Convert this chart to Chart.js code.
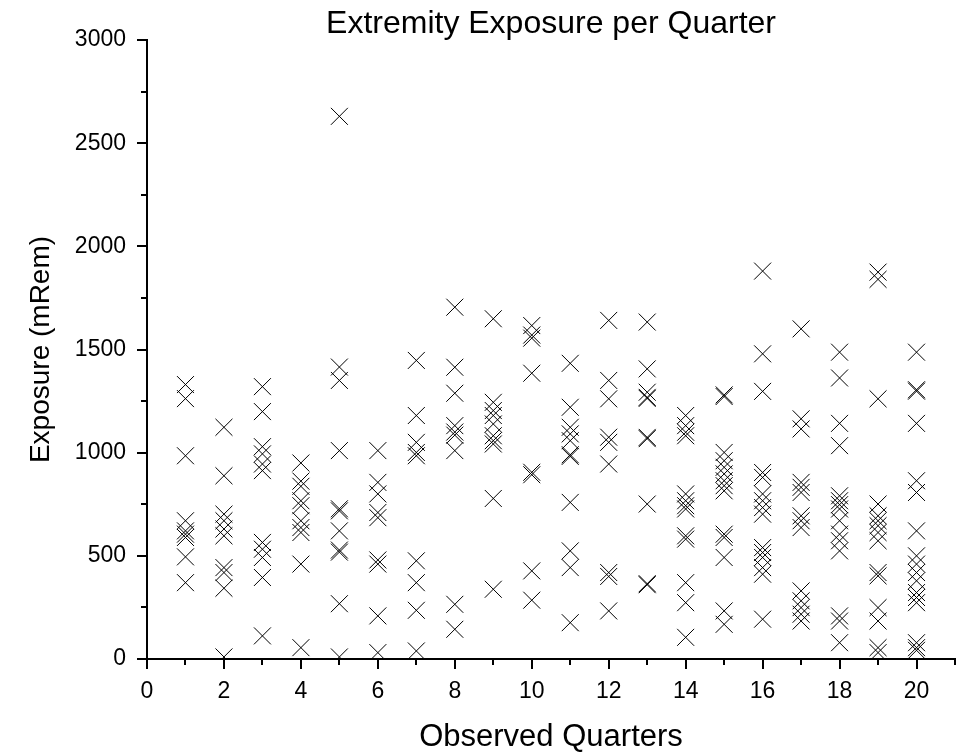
<!DOCTYPE html>
<html>
<head>
<meta charset="utf-8">
<title>Extremity Exposure per Quarter</title>
<script src="https://cdn.jsdelivr.net/npm/chart.js@4/dist/chart.umd.min.js"></script>
<style>
    html, body { margin: 0; padding: 0; background: #fff; }
    #chart { display: block; }
</style>
</head>
<body>
<canvas id="chart" width="961" height="755"></canvas>
<script>
// exposure readings (mRem) for each observed quarter
var q1 = [1330, 1262, 985, 670, 621, 605, 589, 495, 370];
var q2 = [1123, 888, 702, 670, 630, 597, 443, 419, 343, 10];
var q3 = [1320, 1199, 1029, 994, 945, 913, 565, 532, 492, 395, 112];
var q4 = [950, 862, 837, 767, 743, 670, 637, 613, 460, 55];
var q5 = [2630, 1415, 1350, 1010, 728, 718, 621, 528, 518, 268, 10];
var q6 = [1010, 856, 800, 710, 685, 480, 460, 209, 31];
var q7 = [1447, 1180, 1050, 1001, 985, 476, 370, 236, 39];
var q8 = [1705, 1414, 1288, 1131, 1100, 1085, 1010, 265, 144];
var q9 = [1649, 1244, 1204, 1180, 1139, 1082, 1058, 1042, 778, 338];
var q10 = [1616, 1570, 1555, 1385, 905, 893, 427, 285];
var q11 = [1433, 1220, 1123, 1091, 1058, 990, 982, 759, 524, 443, 176];
var q12 = [1641, 1350, 1261, 1075, 1050, 945, 419, 400, 233];
var q13 = [1633, 1406, 1293, 1268, 1263, 1074, 1068, 751, 365, 360];
var q14 = [1180, 1131, 1099, 1082, 800, 767, 743, 727, 597, 581, 370, 273, 105];
var q15 = [1280, 1272, 1001, 961, 929, 897, 864, 840, 815, 605, 589, 492, 233, 168];
var q16 = [1880, 1479, 1297, 904, 880, 800, 767, 734, 702, 540, 516, 492, 443, 411, 193];
var q17 = [1600, 1164, 1115, 856, 832, 807, 694, 670, 637, 330, 282, 249, 217, 184];
var q18 = [1487, 1362, 1142, 1034, 791, 767, 748, 727, 670, 605, 573, 524, 209, 184, 79];
var q19 = [1875, 1840, 1261, 751, 694, 670, 646, 613, 573, 419, 403, 249, 184, 55, 31];
var q20 = [1487, 1305, 1298, 1142, 864, 807, 621, 500, 460, 419, 379, 322, 298, 273, 79, 55, 42];

var quarters = [1, 2, 3, 4, 5, 6, 7, 8, 9, 10, 11, 12, 13, 14, 15, 16, 17, 18, 19, 20];
var readings = [q1, q2, q3, q4, q5, q6, q7, q8, q9, q10, q11, q12, q13, q14, q15, q16, q17, q18, q19, q20];

var FONT = "'Liberation Sans', Arial, Helvetica, sans-serif";

var points = [];
for (var i = 0; i < quarters.length; i++) {
    for (var j = 0; j < readings[i].length; j++) {
        points.push({ x: quarters[i], y: readings[i][j] });
    }
}

// shorter unlabelled ticks between the labelled ones
var minorTicks = {
    id: 'minorTicks',
    afterDraw: function (chart) {
        var ctx = chart.ctx;
        var xs = chart.scales.x;
        var ys = chart.scales.y;
        ctx.save();
        ctx.strokeStyle = '#000';
        ctx.lineWidth = 2;
        ctx.beginPath();
        xs.ticks.forEach(function (t) {
            if (t.value % 2 !== 0) {
                var px = Math.round(xs.getPixelForValue(t.value));
                ctx.moveTo(px, ys.bottom);
                ctx.lineTo(px, ys.bottom + 6);
            }
        });
        ys.ticks.forEach(function (t) {
            if (t.value % 500 !== 0) {
                var py = Math.round(ys.getPixelForValue(t.value));
                ctx.moveTo(xs.left, py);
                ctx.lineTo(xs.left - 6, py);
            }
        });
        ctx.stroke();
        ctx.restore();
    }
};

new Chart(document.getElementById('chart').getContext('2d'), {
    type: 'scatter',
    data: {
        datasets: [
            {
                label: 'Exposure',
                data: points,
                pointStyle: 'crossRot',
                pointRadius: 12,
                pointHoverRadius: 12,
                borderWidth: 1,
                borderColor: '#000',
                backgroundColor: '#000',
                showLine: false
            }
        ]
    },
    options: {
        responsive: false,
        animation: false,
        events: [],
        layout: {
            autoPadding: false,
            padding: { left: 0, right: 6, top: 0, bottom: 0 }
        },
        plugins: {
            legend: { display: false },
            tooltip: { enabled: false },
            title: {
                display: true,
                text: 'Extremity Exposure per Quarter',
                color: '#000',
                fullSize: false,
                font: { family: FONT, size: 32, weight: 'normal', lineHeight: 1 },
                padding: { top: 8, bottom: 0 }
            }
        },
        scales: {
            x: {
                type: 'linear',
                min: 0,
                max: 21,
                afterFit: function (scale) {
                    scale.height = 96;
                    scale.paddingLeft = 0;
                    scale.paddingRight = 0;
                },
                border: { display: true, color: '#000', width: 2 },
                grid: {
                    drawOnChartArea: false,
                    drawTicks: true,
                    tickLength: 10,
                    lineWidth: 2,
                    color: function (c) {
                        return c.tick && c.tick.value % 2 === 0 ? '#000' : 'rgba(0,0,0,0)';
                    }
                },
                ticks: {
                    stepSize: 1,
                    autoSkip: false,
                    maxRotation: 0,
                    padding: 9,
                    color: '#000',
                    font: { family: FONT, size: 23 },
                    callback: function (v) { return v % 2 === 0 ? String(v) : ''; }
                },
                title: {
                    display: true,
                    text: 'Observed Quarters',
                    color: '#000',
                    font: { family: FONT, size: 31, lineHeight: 1 },
                    padding: { top: 0, bottom: 2 }
                }
            },
            y: {
                type: 'linear',
                min: 0,
                max: 3000,
                afterFit: function (scale) {
                    scale.width = 147;
                    scale.paddingTop = 0;
                    scale.paddingBottom = 0;
                },
                border: { display: true, color: '#000', width: 2 },
                grid: {
                    drawOnChartArea: false,
                    drawTicks: true,
                    tickLength: 10,
                    lineWidth: 2,
                    color: function (c) {
                        return c.tick && c.tick.value % 500 === 0 ? '#000' : 'rgba(0,0,0,0)';
                    }
                },
                ticks: {
                    stepSize: 250,
                    autoSkip: false,
                    padding: 11,
                    color: '#000',
                    font: { family: FONT, size: 23 },
                    callback: function (v) { return v % 500 === 0 ? String(v) : ''; }
                },
                title: {
                    display: true,
                    text: 'Exposure (mRem)',
                    color: '#000',
                    font: { family: FONT, size: 28, lineHeight: 1.2 },
                    padding: { top: 24, bottom: 0 }
                }
            }
        }
    },
    plugins: [minorTicks]
});
</script>
</body>
</html>
